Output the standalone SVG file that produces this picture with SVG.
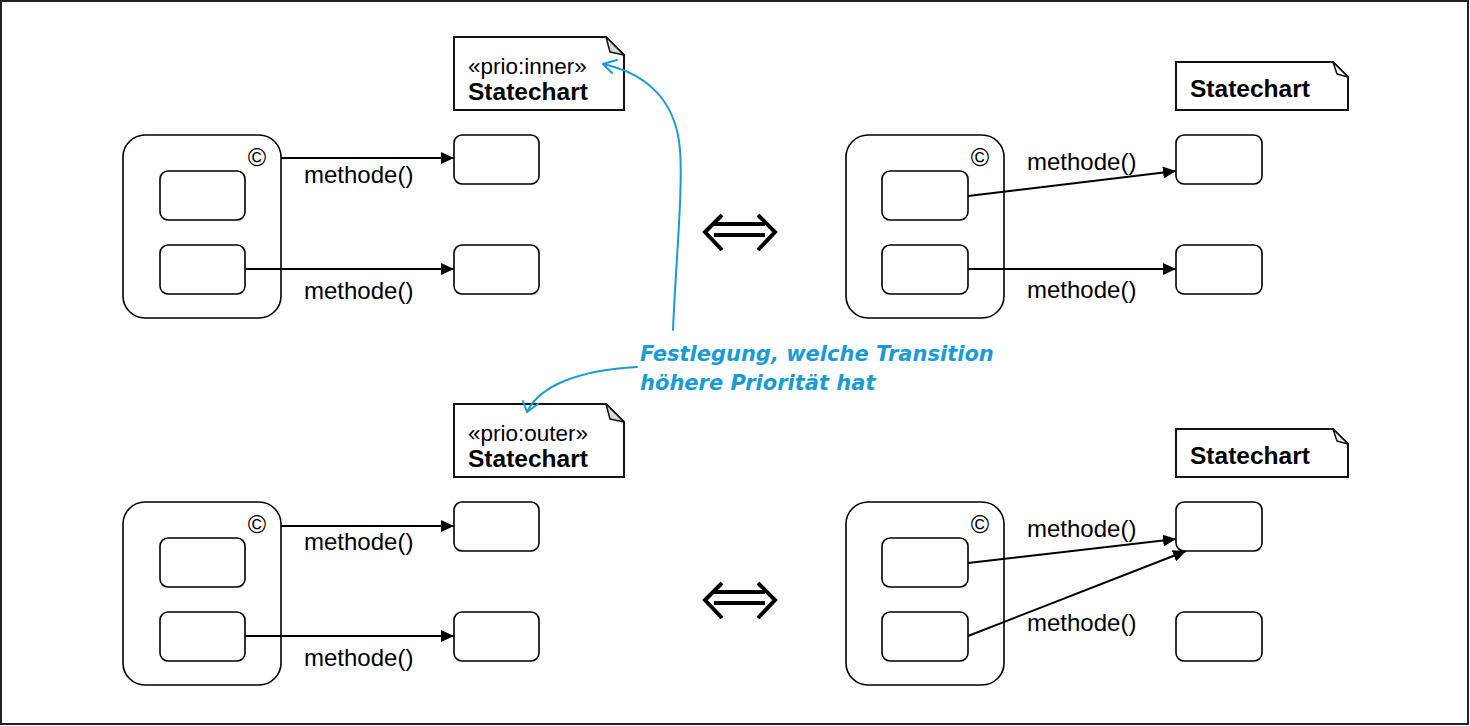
<svg xmlns="http://www.w3.org/2000/svg" width="1470" height="726" viewBox="0 0 1470 726">
<style>
.st{fill:#fff;stroke:#000;stroke-width:1.6}
.note{fill:#fff;stroke:#111;stroke-width:2}
.fold{fill:#d9d9d9;stroke:#111;stroke-width:1.5;stroke-linejoin:round}
.foldw{fill:#fff;stroke:#111;stroke-width:1.5;stroke-linejoin:round}
.tr{fill:none;stroke:#000;stroke-width:2;marker-end:url(#ah)}
.lbl{font-family:"Liberation Sans",Arial,sans-serif;font-size:24px;fill:#000}
.ster{font-family:"Liberation Sans",Arial,sans-serif;font-size:22.5px;fill:#000}
.bold{font-family:"Liberation Sans",Arial,sans-serif;font-size:24.5px;font-weight:bold;fill:#000}
.copy{font-family:"Liberation Sans",Arial,sans-serif;font-size:25px;fill:#000;text-anchor:middle}
.eq{fill:none;stroke:#000;stroke-width:4}
.blue{fill:none;stroke:#1b9bd1;stroke-width:2;stroke-linecap:round;stroke-linejoin:round}
.btxt{font-family:"DejaVu Sans",sans-serif;font-size:21px;font-weight:bold;font-style:italic;fill:#1b9bd1}
</style>
<defs>
<marker id="ah" markerWidth="14" markerHeight="12" refX="13" refY="6" orient="auto" markerUnits="userSpaceOnUse">
<path d="M0,0 L13,6 L0,12 Z" fill="#000"/>
</marker>
</defs>
<rect x="1" y="1" width="1467" height="723" fill="#fff" stroke="#222" stroke-width="2"/>

<!-- top-left -->
<g id="note-inner">
<path class="note" d="M454,37 H606 L624,55 V110 H454 Z"/>
<path class="fold" d="M606,37 L624,55 L610,52 Z"/>
<text class="ster" x="468" y="74">«prio:inner»</text>
<text class="bold" x="468" y="100">Statechart</text>
</g>
<g id="tl-composite">
<rect class="st" x="123" y="135" width="158" height="183" rx="22"/>
<text class="copy" x="257" y="166">©</text>
</g>
<g id="tl-inner1"><rect class="st" x="160" y="171" width="85" height="49" rx="8"/></g>
<g id="tl-inner2"><rect class="st" x="160" y="245" width="85" height="49" rx="8"/></g>
<g id="tl-target1"><rect class="st" x="454" y="135" width="85" height="49" rx="8"/></g>
<g id="tl-target2"><rect class="st" x="454" y="245" width="85" height="49" rx="8"/></g>

<!-- top-right -->
<g id="note-tr">
<path class="note" d="M1176,62 H1333 L1348,77 V110 H1176 Z"/>
<path class="foldw" d="M1333,62 L1348,77 L1337,74 Z"/>
<text class="bold" x="1190" y="97">Statechart</text>
</g>
<g id="tr-composite">
<rect class="st" x="846" y="135" width="158" height="183" rx="22"/>
<text class="copy" x="980" y="166">©</text>
</g>
<g id="tr-inner1"><rect class="st" x="882" y="171" width="86" height="49" rx="8"/></g>
<g id="tr-inner2"><rect class="st" x="882" y="245" width="86" height="49" rx="8"/></g>
<g id="tr-target1"><rect class="st" x="1176" y="135" width="86" height="49" rx="8"/></g>
<g id="tr-target2"><rect class="st" x="1176" y="245" width="86" height="49" rx="8"/></g>

<!-- bottom-left -->
<g id="note-outer">
<path class="note" d="M454,404 H606 L624,422 V477 H454 Z"/>
<path class="fold" d="M606,404 L624,422 L610,419 Z"/>
<text class="ster" x="468" y="441">«prio:outer»</text>
<text class="bold" x="468" y="467">Statechart</text>
</g>
<g id="bl-composite">
<rect class="st" x="123" y="502" width="158" height="183" rx="22"/>
<text class="copy" x="257" y="533">©</text>
</g>
<g id="bl-inner1"><rect class="st" x="160" y="538" width="85" height="49" rx="8"/></g>
<g id="bl-inner2"><rect class="st" x="160" y="612" width="85" height="49" rx="8"/></g>
<g id="bl-target1"><rect class="st" x="454" y="502" width="85" height="49" rx="8"/></g>
<g id="bl-target2"><rect class="st" x="454" y="612" width="85" height="49" rx="8"/></g>

<!-- bottom-right -->
<g id="note-br">
<path class="note" d="M1176,429 H1333 L1348,444 V477 H1176 Z"/>
<path class="foldw" d="M1333,429 L1348,444 L1337,441 Z"/>
<text class="bold" x="1190" y="464">Statechart</text>
</g>
<g id="br-composite">
<rect class="st" x="846" y="502" width="158" height="183" rx="22"/>
<text class="copy" x="980" y="533">©</text>
</g>
<g id="br-inner1"><rect class="st" x="882" y="538" width="86" height="49" rx="8"/></g>
<g id="br-inner2"><rect class="st" x="882" y="612" width="86" height="49" rx="8"/></g>
<g id="br-target1"><rect class="st" x="1176" y="502" width="86" height="49" rx="8"/></g>
<g id="br-target2"><rect class="st" x="1176" y="612" width="86" height="49" rx="8"/></g>

<!-- equivalence symbols -->
<g id="equiv-top">
<path class="eq" d="M714,224 H765 M714,235 H765 M722,215 L705,232 L722,250 M758,215 L775,232 L758,250"/>
</g>
<g id="equiv-bottom">
<path class="eq" d="M714,592 H765 M714,603 H765 M722,583 L705,600 L722,618 M758,583 L775,600 L758,618"/>
</g>

<!-- annotation -->
<g id="annotation">
<text class="btxt" x="640" y="361">Festlegung, welche Transition</text>
<text class="btxt" x="640" y="390">höhere Priorität hat</text>
</g>

<g id="connectors">
<path class="tr" d="M281,158 H454"/>
<path class="tr" d="M245,269 H454"/>
<path class="tr" d="M968,196 L1176,171"/>
<path class="tr" d="M968,269 H1176"/>
<path class="tr" d="M281,526 H454"/>
<path class="tr" d="M245,636 H454"/>
<path class="tr" d="M968,563 L1176,539"/>
<path class="tr" d="M968,636 L1186,551"/>
<path class="blue" d="M673,330 C676,260 683,190 680,150 C676,95 640,72 603,64"/>
<path class="blue" d="M617,60 L603,64 L612,73"/>
<path class="blue" d="M637,367 C580,370 540,385 527,412"/>
<path class="blue" d="M523,401 L527,412 L538,404"/>
</g>

<g id="labels">
<text class="lbl" x="304" y="183">methode()</text>
<text class="lbl" x="304" y="299">methode()</text>
<text class="lbl" x="1027" y="170">methode()</text>
<text class="lbl" x="1027" y="298">methode()</text>
<text class="lbl" x="304" y="550">methode()</text>
<text class="lbl" x="304" y="666">methode()</text>
<text class="lbl" x="1027" y="537">methode()</text>
<text class="lbl" x="1027" y="631">methode()</text>
</g>
</svg>
